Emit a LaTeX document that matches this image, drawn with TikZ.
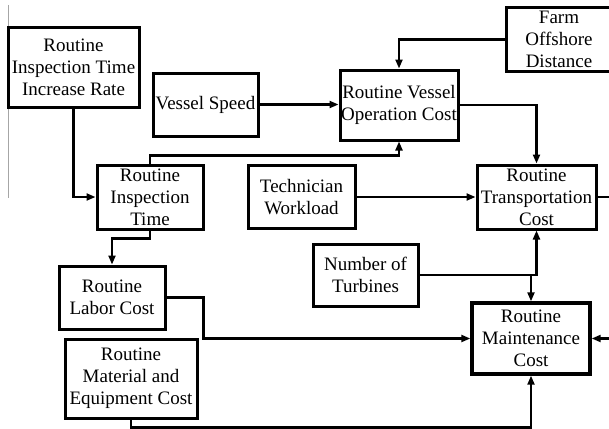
\documentclass[tikz,border=0pt]{standalone}
\usepackage{fontspec}
\setmainfont{Liberation Serif}
\usetikzlibrary{arrows.meta}
\begin{document}
\begin{tikzpicture}[x=1pt,y=-1pt,
  blk/.style={draw=black, line width=3pt, inner sep=0pt, align=center,
    font=\fontsize{19}{22}\selectfont},
  arr/.style={line width=2.1pt, -{Triangle[length=9pt,width=7pt]}},
  ln/.style={line width=2.1pt}]
\useasboundingbox (0,0) rectangle (609,428);

% thin margin rule on the left
\draw[gray!70, line width=0.8pt] (8,5) coordinate (rtop) -- (8,198) coordinate (rbot);

% blocks
\node[blk, minimum width=131pt, minimum height=79pt] (rate) at (73.5,67.5) {Routine\\Inspection Time\\Increase Rate};
\node[blk, minimum width=105pt, minimum height=63pt] (speed) at (205.5,104.5) {Vessel Speed};
\node[blk, minimum width=118pt, minimum height=70pt] (vessel) at (399,105) {Routine Vessel\\Operation Cost};
\node[blk, minimum width=106pt, minimum height=63pt] (farm) at (559,39.5) {Farm\\Offshore\\Distance};
\node[blk, minimum width=106pt, minimum height=64pt] (insp) at (150,197) {Routine\\Inspection\\Time};
\node[blk, minimum width=107pt, minimum height=63pt] (tech) at (301.5,197) {Technician\\Workload};
\node[blk, minimum width=119pt, minimum height=64pt] (trans) at (536.5,197) {Routine\\Transportation\\Cost};
\node[blk, minimum width=105pt, minimum height=62pt] (turb) at (365.5,275) {Number of\\Turbines};
\node[blk, minimum width=106pt, minimum height=63pt] (labor) at (112,297.5) {Routine\\Labor Cost};
\node[blk, line width=3.4pt, minimum width=118pt, minimum height=71pt] (maint) at (531,338.5) {Routine\\Maintenance\\Cost};
\node[blk, minimum width=132pt, minimum height=79pt] (mat) at (131,378.5) {Routine\\Material and\\Equipment Cost};

% free ends leaving the right border
\coordinate (transout) at (612,197);
\coordinate (maintin) at (612,338.5);

% connectors
\draw[arr] (farm.west) -| (vessel.north);
\draw[arr] (speed.east) -- (speed.east -| vessel.west);
\draw[arr] (vessel.east) -| (trans.north);
\draw[arr] (rate.south) |- (insp.west);
\draw[arr] (insp.north) -- ++(0,-8) -| (vessel.south);
\draw[arr] (insp.south) -- ++(0,8) -| (labor.north);
\draw[arr] (tech.east) -- (trans.west);
\draw[ln] (trans.east) -- (transout);
\draw[arr] (turb.east) -| (trans.south);
\draw[arr] (turb.east -| maint.north) -- (maint.north);
\draw[arr] (labor.east) -- ++(37,0) |- (maint.west);
\draw[arr] (mat.south) -- ++(0,8) -| (maint.south);
\draw[arr] (maintin) -- (maint.east);
\end{tikzpicture}
\end{document}
